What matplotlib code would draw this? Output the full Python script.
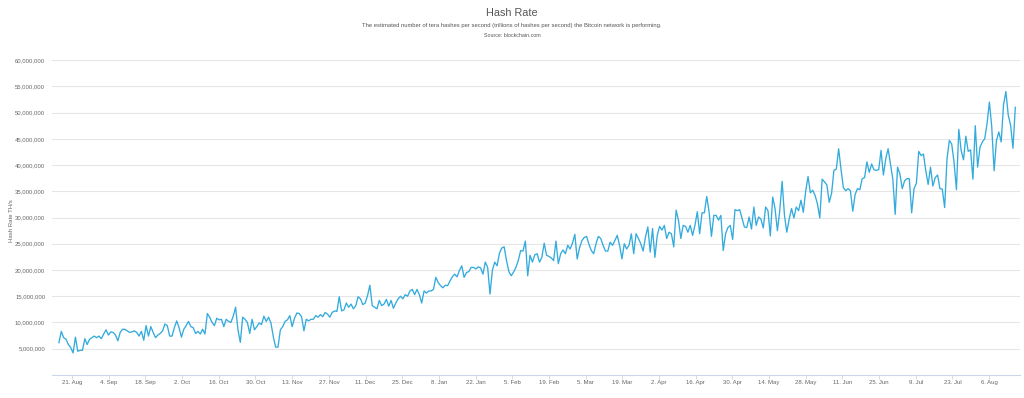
import matplotlib
matplotlib.use("Agg")
import matplotlib.pyplot as plt
import matplotlib.dates as mdates
from matplotlib.ticker import FuncFormatter
import numpy as np
import pandas as pd

plt.rcParams['font.family'] = ['Liberation Sans', 'DejaVu Sans']

# ---- data (hash rate, millions of TH/s) ----
start_date = "2017-08-16"
end_date = "2018-08-16"
hash_rate_millions = [
    6.15, 8.3, 7.1, 6.8, 5.8, 5.2, 4.2, 7.2, 4.5, 4.7, 4.7, 6.9, 5.8, 6.8, 7.1, 7.4, 7.1,
    7.4, 6.9, 7.8, 8.6, 7.6, 8.2, 8.1, 7.6, 6.5, 8.1, 8.7, 8.7, 8.4, 8.1, 8.2, 8.4,
    8.1, 7.4, 8.3, 6.6, 9.4, 7.4, 9.2, 8.1, 7.1, 7.6, 7.9, 8.4, 9.7, 9.4, 7.4, 7.4, 9.0,
    10.3, 9.0, 7.2, 8.7, 9.4, 10.2, 9.2, 9.0, 7.9, 8.3, 7.8, 8.7, 7.8, 11.7, 11.0, 10.0, 9.4, 10.8,
    10.5, 10.6, 9.2, 10.6, 10.2, 10.0, 11.2, 12.9, 8.6, 6.2, 11.0, 10.6, 10.0, 7.9, 10.6, 8.6,
    9.2, 9.9, 9.6, 11.2, 10.2, 11.0, 9.9, 7.3, 5.3, 5.3, 8.6, 9.2, 10.2, 10.5, 11.3, 9.2, 10.8, 11.8, 11.7,
    11.1, 8.4, 10.6, 10.3, 10.6, 10.6, 11.3, 11.0, 11.5, 11.1, 11.9, 11.6, 11.0, 11.9, 12.2, 12.1,
    14.9, 12.2, 12.4, 13.7, 12.9, 13.5, 12.6, 13.2, 14.9, 14.5, 13.4, 13.7, 15.1, 17.1, 13.2, 12.9,
    12.6, 14.2, 13.2, 13.5,
    14.4, 13.1, 14.2, 12.7, 13.7, 14.5, 15.0, 14.5, 15.3, 15.0, 16.0, 16.3, 15.3, 16.3, 15.3, 13.7,
    16.0, 15.6, 16.0, 16.0, 16.3, 18.6, 17.6, 17.0, 16.6, 17.1, 17.0, 17.9, 18.7, 19.2, 18.7, 19.9,
    20.8, 18.6, 19.5, 19.7, 20.5,
    20.5, 20.2, 20.6, 20.4, 19.2, 21.5, 20.5, 15.4, 19.9, 21.5, 20.8, 23.2, 24.2, 24.4, 21.8, 19.7,
    18.9, 19.6, 20.5, 21.8, 23.7, 23.6, 25.5, 18.9, 22.8, 21.5, 22.9, 23.1, 21.5, 22.4, 25.1, 22.8,
    22.6, 22.3, 21.8, 25.5, 21.2,
    23.1, 23.8, 23.1, 24.7, 24.0, 25.1, 26.8, 22.1, 24.2, 25.6, 26.2, 26.4, 24.9, 23.7, 23.1, 25.0,
    26.4, 26.0, 24.7, 23.6, 23.6, 25.3, 24.7, 25.6, 26.6, 24.7, 22.1, 25.0, 24.0, 24.7, 26.9, 23.1,
    26.9, 26.0, 25.0, 23.6, 26.3, 28.2, 23.4,
    27.9, 22.4, 26.6, 28.3, 27.6, 28.5, 26.0, 27.2, 26.9, 24.4, 31.4, 29.5, 26.0, 28.5, 28.3, 27.2,
    28.5, 26.6, 28.5, 31.1, 26.9, 30.9, 30.9, 34.0, 31.1, 26.4, 30.4, 30.4, 29.5, 30.4, 23.7, 26.9,
    28.1, 28.5, 25.8, 31.5, 31.3, 31.5, 29.8, 28.2,
    28.1, 30.1, 27.8, 32.0, 28.5, 30.1, 29.7, 28.0, 32.0, 31.3, 26.5, 33.9, 31.7, 27.5, 31.3, 36.9,
    30.4, 27.2, 29.7, 31.7, 29.9, 32.0, 31.3, 33.3, 31.0, 35.0, 37.8, 34.7, 35.2, 34.2, 32.6, 29.9,
    37.3, 36.8, 36.2, 32.9, 34.6, 39.0,
    39.2, 43.1, 39.2, 35.7, 35.1, 35.5, 35.1, 31.2, 34.4, 35.5, 35.3, 37.4, 37.6, 40.6, 38.6, 40.2,
    39.1, 39.0, 39.1, 42.8, 38.1, 41.2, 43.1, 40.2, 37.3, 30.6, 39.6, 38.3, 35.5, 37.0, 37.4, 37.4,
    30.9, 35.5, 36.5, 42.6, 41.8, 42.1, 38.9, 36.3, 39.6, 36.0, 37.6, 38.1, 35.5, 35.4, 31.9, 41.2,
    44.7, 44.0, 40.5, 35.3, 46.8, 42.8, 41.0, 45.5, 42.6, 42.9, 37.3, 47.5, 39.6, 43.4, 44.4, 45.0,
    47.9, 52.0, 47.2, 38.9, 44.7, 46.3, 44.4, 51.5, 54.0, 49.5, 47.6, 43.2, 51.0,
]
tick_start = "2017-08-21"
tick_count = 26
y_ticks_millions = [5, 10, 15, 20, 25, 30, 35, 40, 45, 50, 55, 60]

title = "Hash Rate"
subtitle = ("The estimated number of tera hashes per second (trillions of hashes per second) "
            "the Bitcoin network is performing.")
source = "Source: blockchain.com"
y_title = "Hash Rate TH/s"

# ---- build ----
values = np.array(hash_rate_millions) * 1e6
dates = pd.date_range(start_date, end_date, periods=len(values))
tick_dates = pd.date_range(tick_start, periods=tick_count, freq="14D")

fig = plt.figure(figsize=(10.24, 3.98), dpi=100)
ax = fig.add_axes([0.051, 0.058, 0.945, 0.791])

ax.plot(dates, values, color="#33abdd", lw=0.95, solid_joinstyle="round")

ax.set_ylim(0, 60e6)
ax.set_yticks(np.array(y_ticks_millions) * 1e6)
ax.yaxis.set_major_formatter(FuncFormatter(lambda v, p: f"{int(v):,}"))
ax.grid(axis="y", color="#e6e6e6", lw=0.8)
ax.set_axisbelow(True)

ax.set_xlim(pd.Timestamp("2017-08-13 10:30"), pd.Timestamp("2018-08-17 18:00"))
ax.set_xticks(tick_dates)
ax.xaxis.set_major_formatter(mdates.DateFormatter("%-d. %b"))

for s in ["top", "right", "left"]:
    ax.spines[s].set_visible(False)
ax.spines["bottom"].set_color("#ccd6eb")
ax.spines["bottom"].set_linewidth(0.8)

ax.tick_params(axis="y", length=0, labelsize=4.3, labelcolor="#666666", pad=5)
ax.tick_params(axis="x", length=3, width=0.6, color="#ccd6eb", labelsize=4.3,
               labelcolor="#666666", pad=1)

fig.text(12 / 1024, 0.445, y_title, rotation=90, ha="center", va="center",
         fontsize=4.3, color="#666666")

fig.text(0.5, 0.968, title, ha="center", va="center", fontsize=7.8, color="#555555")
fig.text(0.5, 0.937, subtitle, ha="center", va="center", fontsize=4.2, color="#555555")
fig.text(0.5, 0.912, source, ha="center", va="center", fontsize=3.8, color="#555555")

fig.savefig("out.png", dpi=100, facecolor="white")
